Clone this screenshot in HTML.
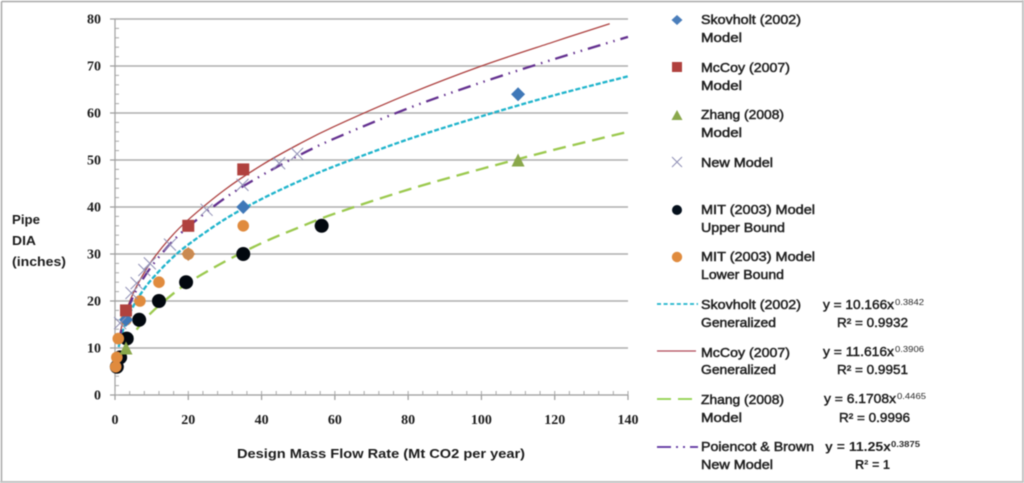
<!DOCTYPE html>
<html lang="en">
<head>
<meta charset="utf-8">
<title>Pipe diameter versus design mass flow rate</title>
<style>
html,body{margin:0;padding:0;background:#fff;width:1024px;height:483px;overflow:hidden}
svg{display:block;filter:blur(0.45px)}
.tick{font-family:"Liberation Serif",serif;font-size:14px;font-weight:bold;fill:#1c1c1c}
.axt{font-family:"Liberation Sans",sans-serif;font-size:13px;font-weight:bold;fill:#1c1c1c}
.lg{font-family:"Liberation Sans",sans-serif;font-size:13px;fill:#222;stroke:#222;stroke-width:.5px}
.eq{font-family:"Liberation Sans",sans-serif;font-size:13px;fill:#1c1c1c;stroke:#1c1c1c;stroke-width:.45px}
.sup{font-family:"Liberation Sans",sans-serif;font-size:8.5px;fill:#2a2a2a}
.bold{font-weight:bold;stroke:none}
</style>
</head>
<body>
<svg id="chart" xmlns="http://www.w3.org/2000/svg" width="1024" height="483" viewBox="0 0 1024 483">
  <rect x="0" y="0" width="1024" height="483" fill="#fff"/>
  <g>
    <line x1="1.5" y1="1.5" x2="1022" y2="1.5" stroke="#a8a8a8" stroke-width="1.5"/>
    <line x1="1.5" y1="1.5" x2="1.5" y2="481" stroke="#a8a8a8" stroke-width="1.5"/>
    <rect x="1022" y="0" width="2" height="483" fill="#c2c2c2"/>
    <rect x="0" y="481" width="1024" height="2" fill="#c2c2c2"/>
  </g>
  <g id="grid"></g>
  <g id="axes"></g>
  <g id="trends"></g>
  <g id="marks"></g>

  <text class="axt" x="237" y="458" textLength="288" lengthAdjust="spacingAndGlyphs">Design Mass Flow Rate (Mt CO2 per year)</text>
  <g>
    <text class="axt" x="12" y="224" textLength="28" lengthAdjust="spacingAndGlyphs">Pipe</text>
    <text class="axt" x="12" y="245" textLength="24" lengthAdjust="spacingAndGlyphs">DIA</text>
    <text class="axt" x="12" y="266" textLength="54" lengthAdjust="spacingAndGlyphs">(inches)</text>
  </g>

  <g>
    <g>
      <polygon points="677,15 682.5,20 677,25 671.5,20" fill="#4a7ebb"/>
      <text class="lg" x="701" y="24" textLength="100" lengthAdjust="spacingAndGlyphs">Skovholt (2002)</text>
      <text class="lg" x="701" y="42" textLength="41" lengthAdjust="spacingAndGlyphs">Model</text>
    </g>
    <g>
      <rect x="672" y="62" width="10" height="10" fill="#b0413e"/>
      <text class="lg" x="701" y="72" textLength="89" lengthAdjust="spacingAndGlyphs">McCoy (2007)</text>
      <text class="lg" x="701" y="90" textLength="41" lengthAdjust="spacingAndGlyphs">Model</text>
    </g>
    <g>
      <polygon points="677,110 682.5,120 671.5,120" fill="#8aa84b"/>
      <text class="lg" x="701" y="119" textLength="83" lengthAdjust="spacingAndGlyphs">Zhang (2008)</text>
      <text class="lg" x="701" y="137" textLength="41" lengthAdjust="spacingAndGlyphs">Model</text>
    </g>
    <g>
      <path d="M672 157L682 167M682 157L672 167" stroke="#8f8fb5" stroke-width="1" fill="none"/>
      <text class="lg" x="701" y="167" textLength="72" lengthAdjust="spacingAndGlyphs">New Model</text>
    </g>
    <g>
      <circle cx="677" cy="210" r="5" fill="#05101c"/>
      <text class="lg" x="701" y="214" textLength="114" lengthAdjust="spacingAndGlyphs">MIT (2003) Model</text>
      <text class="lg" x="701" y="232" textLength="84" lengthAdjust="spacingAndGlyphs">Upper Bound</text>
    </g>
    <g>
      <circle cx="677" cy="257" r="5.2" fill="#e08b3e"/>
      <text class="lg" x="701" y="261" textLength="114" lengthAdjust="spacingAndGlyphs">MIT (2003) Model</text>
      <text class="lg" x="701" y="279" textLength="83" lengthAdjust="spacingAndGlyphs">Lower Bound</text>
    </g>
    <g>
      <line x1="657" y1="304" x2="698" y2="304" stroke="#1fb4cc" stroke-width="1.8" stroke-dasharray="4 2.6"/>
      <text class="lg" x="701" y="309" textLength="100" lengthAdjust="spacingAndGlyphs">Skovholt (2002)</text>
      <text class="lg" x="701" y="327" textLength="75" lengthAdjust="spacingAndGlyphs">Generalized</text>
    </g>
    <g>
      <line x1="657" y1="351" x2="696" y2="351" stroke="#b04858" stroke-width="1.3"/>
      <text class="lg" x="701" y="357" textLength="89" lengthAdjust="spacingAndGlyphs">McCoy (2007)</text>
      <text class="lg" x="701" y="374" textLength="75" lengthAdjust="spacingAndGlyphs">Generalized</text>
    </g>
    <g>
      <line x1="657" y1="399" x2="693" y2="399" stroke="#8fd04a" stroke-width="1.8" stroke-dasharray="14 7"/>
      <text class="lg" x="701" y="404" textLength="83" lengthAdjust="spacingAndGlyphs">Zhang (2008)</text>
      <text class="lg" x="701" y="422" textLength="41" lengthAdjust="spacingAndGlyphs">Model</text>
    </g>
    <g>
      <line x1="657" y1="447" x2="698" y2="447" stroke="#5a2f9e" stroke-width="1.8" stroke-dasharray="14 5 2 5 2 5 5 0"/>
      <text class="lg" x="701" y="451" textLength="113" lengthAdjust="spacingAndGlyphs">Poiencot &amp; Brown</text>
      <text class="lg" x="701" y="469" textLength="72" lengthAdjust="spacingAndGlyphs">New Model</text>
    </g>
  </g>

  <g>
    <g>
      <text class="eq" x="823" y="309" textLength="71" lengthAdjust="spacingAndGlyphs">y = 10.166x</text>
      <text class="sup" x="895" y="305" textLength="29" lengthAdjust="spacingAndGlyphs">0.3842</text>
      <text class="eq" x="837" y="327" textLength="71" lengthAdjust="spacingAndGlyphs">R² = 0.9932</text>
    </g>
    <g>
      <text class="eq" x="823" y="356" textLength="71" lengthAdjust="spacingAndGlyphs">y = 11.616x</text>
      <text class="sup" x="895" y="352" textLength="29" lengthAdjust="spacingAndGlyphs">0.3906</text>
      <text class="eq" x="837" y="374" textLength="71" lengthAdjust="spacingAndGlyphs">R² = 0.9951</text>
    </g>
    <g>
      <text class="eq" x="824" y="403" textLength="72" lengthAdjust="spacingAndGlyphs">y = 6.1708x</text>
      <text class="sup" x="897" y="399" textLength="29" lengthAdjust="spacingAndGlyphs">0.4465</text>
      <text class="eq" x="839" y="422" textLength="71" lengthAdjust="spacingAndGlyphs">R² = 0.9996</text>
    </g>
    <g>
      <text class="eq bold" x="825" y="451" textLength="66" lengthAdjust="spacingAndGlyphs">y = 11.25x</text>
      <text class="sup bold" x="891" y="447" textLength="29" lengthAdjust="spacingAndGlyphs">0.3875</text>
      <text class="eq bold" x="855" y="469" textLength="35" lengthAdjust="spacingAndGlyphs">R² = 1</text>
    </g>
  </g>
</svg>
<script>
// Axis tick values
const xTickLabels = [0, 20, 40, 60, 80, 100, 120, 140];
const yTickLabels = [0, 10, 20, 30, 40, 50, 60, 70, 80];
const xMinorStep = 4;
const yMinorStep = 2;

// Trend line samples
const skovholtFlow = [1, 2, 3, 5, 7, 10, 15, 20, 30, 40, 50, 60, 80, 100, 120, 140];
const skovholtDia = [10.2, 13.3, 15.6, 18.9, 21.5, 24.6, 28.7, 32, 37.4, 41.7, 45.4, 48.7, 54.4, 59.3, 63.8, 67.8];
const mccoyFlow = [1, 2, 3, 5, 7, 10, 15, 20, 30, 40, 50, 60, 80, 100, 120, 135];
const mccoyDia = [11.6, 15.2, 17.8, 21.7, 24.7, 28.5, 33.4, 37.3, 43.7, 48.9, 53.3, 57.2, 64, 70, 75.2, 79];
const zhangFlow = [3, 5, 7, 10, 15, 20, 30, 40, 50, 60, 80, 100, 120, 140];
const zhangDia = [10.3, 12.9, 15, 17.6, 21, 23.9, 28.4, 32.3, 35.6, 38.6, 43.7, 48.1, 52.2, 56];
const newModelFlow = [1, 2, 3, 5, 7, 10, 15, 20, 30, 40, 50, 60, 80, 100, 120, 140];
const newModelDia = [11.2, 14.7, 17.2, 21, 23.9, 27.4, 32.1, 35.8, 41.9, 46.7, 50.9, 54.6, 61, 66.5, 71.5, 76.2];

// Scatter series
const skovholtPtsX = [3, 20, 35, 110];
const skovholtPtsY = [16, 30, 40, 64];
const mccoyPtsX = [3, 20, 35];
const mccoyPtsY = [18, 36, 48];
const zhangPtsX = [3, 20, 110];
const zhangPtsY = [10, 24, 50];
const newPtsX = [1.4, 4.5, 5.9, 8, 9.5, 15, 25, 34.8, 44.8, 49.7];
const newPtsY = [15.3, 21.7, 23.8, 26.6, 28, 32, 39.4, 44.7, 49.3, 51.3];
const mitUpperX = [0.5, 1.4, 3.2, 6.6, 12, 19.4, 35, 56.4];
const mitUpperY = [6, 8, 12, 16, 20, 24, 30, 36];
const mitLowerX = [0.2, 0.5, 0.9, 3, 6.8, 12, 20, 35];
const mitLowerY = [6, 8, 12, 16, 20, 24, 30, 36];

const NS = 'http://www.w3.org/2000/svg';
const plot = {left: 115, right: 628, top: 19, bottom: 395, xMax: 140, yMax: 80};
function xScale(v) { return plot.left + v / plot.xMax * (plot.right - plot.left); }
function yScale(v) { return plot.bottom - v / plot.yMax * (plot.bottom - plot.top); }
function svgEl(tag, parent) {
  const el = document.createElementNS(NS, tag);
  parent.appendChild(el);
  return el;
}
function setAll(el, props) {
  Object.keys(props).forEach(function (k) { el.setAttribute(k, props[k]); });
}

const grid = document.getElementById('grid');
const axes = document.getElementById('axes');
const trends = document.getElementById('trends');
const marks = document.getElementById('marks');

yTickLabels.forEach(function (v) {
  if (v === 0) return;
  const g = svgEl('line', grid);
  
  
  setAll(g, {x1: plot.left, x2: plot.right, y1: yScale(v), y2: yScale(v), stroke: '#adadad', 'stroke-width': 1.4});
});

const yAxis = svgEl('line', axes);


setAll(yAxis, {x1: plot.left, x2: plot.left, y1: plot.top, y2: plot.bottom, stroke: '#a0a0a0', 'stroke-width': 1.2});
const xAxis = svgEl('line', axes);


setAll(xAxis, {x1: plot.left, x2: plot.right, y1: plot.bottom, y2: plot.bottom, stroke: '#9a9a9a', 'stroke-width': 1.3});

for (let v = 0; v <= plot.yMax; v += yMinorStep) {
  const t = svgEl('line', axes);
  
  
  setAll(t, {x1: plot.left, x2: plot.left + 4, y1: yScale(v), y2: yScale(v), stroke: '#a8a8a8', 'stroke-width': 1});
}
for (let v = 0; v <= plot.xMax; v += xMinorStep) {
  const t = svgEl('line', axes);
  
  
  setAll(t, {x1: xScale(v), x2: xScale(v), y1: plot.bottom, y2: plot.bottom - 4, stroke: '#a8a8a8', 'stroke-width': 1});
}
yTickLabels.forEach(function (v) {
  const t = svgEl('line', axes);
  
  
  setAll(t, {x1: plot.left - 5, x2: plot.left, y1: yScale(v), y2: yScale(v), stroke: '#9a9a9a', 'stroke-width': 1.2});
  const l = svgEl('text', axes);
  
  
  setAll(l, {x: 101, y: yScale(v) + 4.5, 'text-anchor': 'end', class: 'tick'});
  l.textContent = v;
});
xTickLabels.forEach(function (v) {
  const t = svgEl('line', axes);
  
  
  setAll(t, {x1: xScale(v), x2: xScale(v), y1: plot.bottom, y2: plot.bottom + 5, stroke: '#9a9a9a', 'stroke-width': 1.2});
  const l = svgEl('text', axes);
  
  
  setAll(l, {x: xScale(v), y: 424, 'text-anchor': 'middle', class: 'tick'});
  l.textContent = v;
});

function curvePath(xs, ys) {
  const p = xs.map(function (x, i) { return [xScale(x), yScale(ys[i])]; });
  let d = 'M' + p[0][0].toFixed(2) + ' ' + p[0][1].toFixed(2);
  for (let i = 0; i < p.length - 1; i++) {
    const a = p[Math.max(i - 1, 0)], b = p[i], c = p[i + 1], e = p[Math.min(i + 2, p.length - 1)];
    const c1x = b[0] + (c[0] - a[0]) / 6, c1y = b[1] + (c[1] - a[1]) / 6;
    const c2x = c[0] - (e[0] - b[0]) / 6, c2y = c[1] - (e[1] - b[1]) / 6;
    d += 'C' + [c1x, c1y, c2x, c2y, c[0], c[1]].map(function (n) { return n.toFixed(2); }).join(' ');
  }
  return d;
}

const zhangLine = svgEl('path', trends);


setAll(zhangLine, {d: curvePath(zhangFlow, zhangDia), fill: 'none', stroke: '#9bc94e', 'stroke-width': 2.3, 'stroke-dasharray': '13 7'});

const skovholtLine = svgEl('path', trends);


setAll(skovholtLine, {d: curvePath(skovholtFlow, skovholtDia), fill: 'none', stroke: '#1fb4cc', 'stroke-width': 2.3, 'stroke-dasharray': '5 2'});

const mccoyLine = svgEl('path', trends);


setAll(mccoyLine, {d: curvePath(mccoyFlow, mccoyDia), fill: 'none', stroke: '#ad4140', 'stroke-width': 1.3});

const newLine = svgEl('path', trends);


setAll(newLine, {d: curvePath(newModelFlow, newModelDia), fill: 'none', stroke: '#63308f', 'stroke-width': 2.3, 'stroke-dasharray': '13 6 1.5 6 1.5 6'});

mitUpperX.forEach(function (x, i) {
  const c = svgEl('circle', marks);
  
  
  setAll(c, {cx: xScale(x), cy: yScale(mitUpperY[i]), r: 7, fill: '#02080f'});
});
mitLowerX.forEach(function (x, i) {
  const c = svgEl('circle', marks);
  
  
  setAll(c, {cx: xScale(x), cy: yScale(mitLowerY[i]), r: 5.8, fill: '#e08b3e'});
});
skovholtPtsX.forEach(function (x, i) {
  const cx = xScale(x), cy = yScale(skovholtPtsY[i]);
  const p = svgEl('polygon', marks);
  
  
  setAll(p, {points: [cx, cy - 7, cx + 7, cy, cx, cy + 7, cx - 7, cy].join(' '), fill: i === 1 ? '#c98a52' : '#3f78b8'});
});
mccoyPtsX.forEach(function (x, i) {
  const r = svgEl('rect', marks);
  
  
  setAll(r, {x: xScale(x) - 6, y: yScale(mccoyPtsY[i]) - 6, width: 12, height: 12, fill: '#b0413e'});
});
zhangPtsX.forEach(function (x, i) {
  const cx = xScale(x), cy = yScale(zhangPtsY[i]);
  const p = svgEl('polygon', marks);
  
  
  const s = i === 1 ? 0 : 6.5;
  setAll(p, {points: [cx, cy - s, cx + s, cy + s, cx - s, cy + s].join(' '), fill: '#8aa84b'});
});
newPtsX.forEach(function (x, i) {
  const cx = xScale(x), cy = yScale(newPtsY[i]);
  const p = svgEl('path', marks);
  
  
  setAll(p, {d: 'M' + (cx - 6) + ' ' + (cy - 6) + 'L' + (cx + 6) + ' ' + (cy + 6) + 'M' + (cx + 6) + ' ' + (cy - 6) + 'L' + (cx - 6) + ' ' + (cy + 6), stroke: '#8f8fb5', 'stroke-width': 1, fill: 'none'});
});
</script>
</body>
</html>
